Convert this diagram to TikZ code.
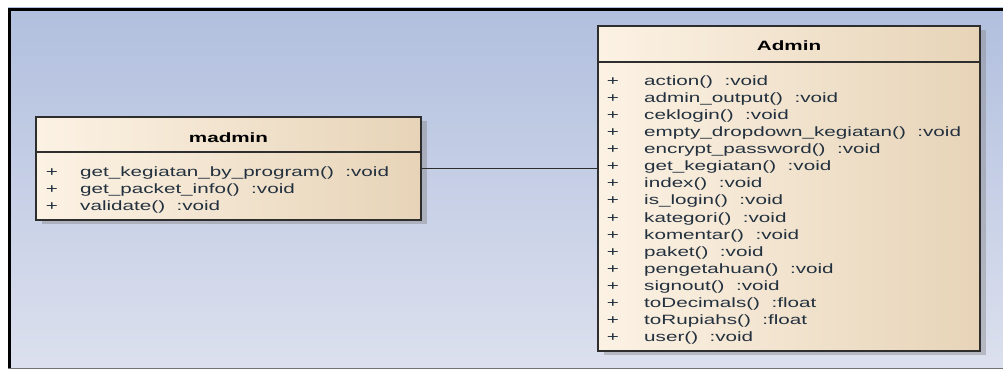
\documentclass[tikz,border=0pt]{standalone}
\usepackage{fontspec}
\setmainfont{Liberation Sans}[FakeStretch=1.53]
\usetikzlibrary{calc,shadows}
\definecolor{bgtop}{HTML}{B1BFDE}
\definecolor{bgbot}{HTML}{DCE0EE}
\definecolor{creamL}{HTML}{FCF2E4}
\definecolor{creamR}{HTML}{E7D4B8}
\definecolor{boxline}{HTML}{2E2E2E}
\definecolor{optext}{HTML}{23313F}
\begin{document}
\begin{tikzpicture}[x=1pt,y=-1pt,
  classbox/.style={draw=boxline, line width=1.6pt, left color=creamL, right color=creamR,
    inner sep=0pt, outer sep=0pt, anchor=north west,
    drop shadow={shadow xshift=6pt, shadow yshift=-4pt, fill=black!50, opacity=0.4}},
  classname/.style={font=\fontsize{13.5pt}{15pt}\selectfont\bfseries, text=black, anchor=base, inner sep=0pt},
  vis/.style={font=\fontsize{13.5pt}{15pt}\selectfont, text=optext, anchor=base, inner sep=0pt},
  oper/.style={font=\fontsize{13.5pt}{15pt}\selectfont, text=optext, anchor=base west, inner sep=0pt},
  link/.style={draw=boxline, line width=1pt}]
\useasboundingbox (0,0) rectangle (1003,369);

% diagram canvas with its frame
\shade[top color=bgtop, bottom color=bgbot] (8,8) rectangle (1003,368);
\draw[black, line width=2.6pt] (9.3,369) -- (9.3,9.3) -- (1003,9.3);
\draw[black!55, line width=1pt] (8,368) -- (1003,368);

% class madmin
\node[classbox, minimum width=385pt, minimum height=103pt] (madmin) at (36,117) {};
\draw[boxline, line width=1.2pt] ($(madmin.north west)+(0,35)$) -- ($(madmin.north east)+(0,35)$);
\node[classname] (madmin-name) at (228.5,142) {madmin};
\foreach \op [count=\i] in {get\_kegiatan\_by\_program()\ \ :void,
                           get\_packet\_info()\ \ :void,
                           validate()\ \ :void} {
  \node[vis] (madmin-v\i) at (52,{159+17*\i}) {+};
  \node[oper] (madmin-op\i) at (80,{159+17*\i}) {\op};
}

% class Admin
\node[classbox, minimum width=382pt, minimum height=325pt] (admin) at (598,26) {};
\draw[boxline, line width=1.2pt] ($(admin.north west)+(0,36)$) -- ($(admin.north east)+(0,36)$);
\node[classname] (admin-name) at (789,51) {Admin};
\foreach \op [count=\i] in {action()\ \ :void,
                           admin\_output()\ \ :void,
                           ceklogin()\ \ :void,
                           empty\_dropdown\_kegiatan()\ \ :void,
                           encrypt\_password()\ \ :void,
                           get\_kegiatan()\ \ :void,
                           index()\ \ :void,
                           is\_login()\ \ :void,
                           kategori()\ \ :void,
                           komentar()\ \ :void,
                           paket()\ \ :void,
                           pengetahuan()\ \ :void,
                           signout()\ \ :void,
                           toDecimals()\ \ :float,
                           toRupiahs()\ \ :float,
                           user()\ \ :void} {
  \node[vis] (admin-v\i) at (613,{67.87+17.13*\i}) {+};
  \node[oper] (admin-op\i) at (644,{67.87+17.13*\i}) {\op};
}

% association between the two classes
\draw[link] (madmin.east) -- (madmin.east -| admin.west);
\end{tikzpicture}
\end{document}
